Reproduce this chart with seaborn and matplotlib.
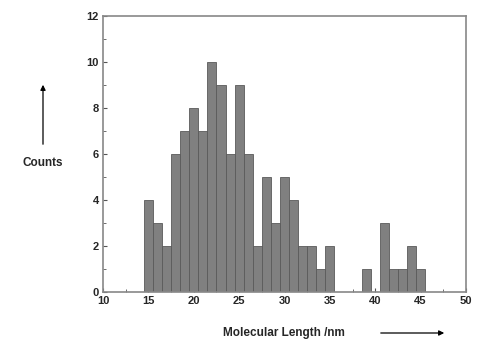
import matplotlib
matplotlib.use("Agg")
import matplotlib.pyplot as plt
import seaborn as sns
import numpy as np
import pandas as pd
from matplotlib.ticker import MultipleLocator

lengths = [15, 16, 17, 18, 19, 20, 21, 22, 23, 24, 25, 26, 27, 28, 29, 30,
           31, 32, 33, 34, 35, 39, 41, 42, 43, 44, 45]
counts = [4, 3, 2, 6, 7, 8, 7, 10, 9, 6, 9, 6, 2, 5, 3, 5,
          4, 2, 2, 1, 2, 1, 3, 1, 1, 2, 1]

df = pd.DataFrame({"length": lengths, "count": counts})

sns.set_style("ticks")
plt.rcParams['font.family'] = ['Liberation Sans', 'DejaVu Sans']

fig = plt.figure(figsize=(4.81, 3.42), dpi=100)
ax = fig.add_axes([103/481, 50/342, 363/481, 276/342])

sns.histplot(data=df, x="length", weights="count", discrete=True, ax=ax,
             color="#808080", edgecolor="#5a5a5a", linewidth=0.6, alpha=1.0)

ax.set_xlim(10, 50)
ax.set_ylim(0, 12)
ax.xaxis.set_major_locator(MultipleLocator(5))
ax.xaxis.set_minor_locator(MultipleLocator(2.5))
ax.yaxis.set_major_locator(MultipleLocator(2))
ax.yaxis.set_minor_locator(MultipleLocator(1))
ax.tick_params(which="both", direction="in", top=False, right=False,
               color="#555555")
ax.tick_params(which="major", length=3, labelsize=8, pad=3)
ax.tick_params(which="minor", length=2)
for lab in ax.get_xticklabels() + ax.get_yticklabels():
    lab.set_fontweight("bold")
for s in ax.spines.values():
    s.set_color("#888888")
    s.set_linewidth(1.2)
ax.set_xlabel("")
ax.set_ylabel("")

# Axis labels with arrows
fig.text(43/481, 1 - 163/342, "Counts", ha="center", va="center",
         fontsize=8.5, fontweight="bold")
fig.add_artist(matplotlib.patches.FancyArrowPatch(
    (43/481, 1 - 147/342), (43/481, 1 - 82/342), transform=fig.transFigure,
    arrowstyle="-|>,head_length=3,head_width=1.5", color="black", lw=0.9))

fig.text(284/481, 1 - 333/342, "Molecular Length /nm", ha="center", va="center",
         fontsize=8.5, fontweight="bold")
fig.add_artist(matplotlib.patches.FancyArrowPatch(
    (378/481, 1 - 333/342), (447/481, 1 - 333/342), transform=fig.transFigure,
    arrowstyle="-|>,head_length=3,head_width=1.5", color="black", lw=0.9))

fig.savefig("out.png", dpi=100)
